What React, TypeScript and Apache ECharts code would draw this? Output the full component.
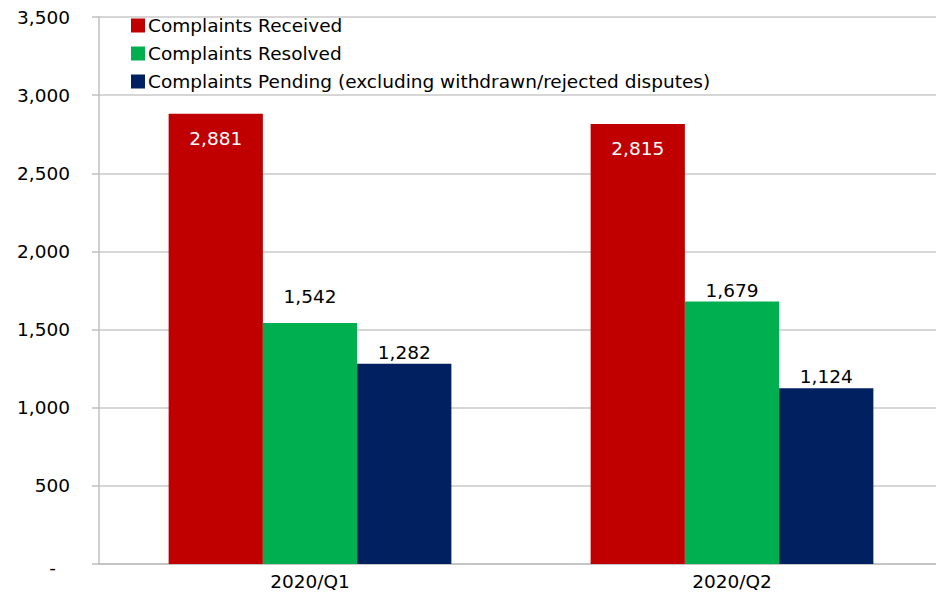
import React, { useEffect, useRef } from "react";
import * as echarts from "echarts";

const categories = ["2020/Q1", "2020/Q2"];
const seriesNames = [
  "Complaints Received",
  "Complaints Resolved",
  "Complaints Pending (excluding withdrawn/rejected disputes)",
];
const received = [2881, 2815];
const resolved = [1542, 1679];
const pending = [1282, 1124];
const colors = ["#C00000", "#00B050", "#002060"];

const FONT = "'DejaVu Sans', sans-serif";
const FS = 18.5;
const fmt = (v: number) => v.toLocaleString("en-US");

export default function App() {
  const ref = useRef<HTMLDivElement>(null);
  useEffect(() => {
    if (!ref.current) return;
    const chart = echarts.init(ref.current, null, { renderer: "svg" });
    const labelBase = {
      show: true,
      fontFamily: FONT,
      fontSize: FS,
      color: "#000",
      formatter: (p: any) => fmt(p.value),
    };
    chart.setOption({
      animation: false,
      textStyle: { fontFamily: FONT },
      grid: {
        left: 99,
        top: 17,
        width: 844,
        bottom: 35,
        containLabel: false,
        outerBoundsMode: "none",
      },
      legend: {
        orient: "vertical",
        left: 126,
        top: 11,
        itemWidth: 14,
        itemHeight: 14,
        itemGap: 9,
        icon: "rect",
        textStyle: { fontFamily: FONT, fontSize: FS, color: "#000", padding: [0, 0, 0, -2] },
        data: seriesNames,
      },
      xAxis: {
        type: "category",
        data: categories,
        axisLine: { show: true, lineStyle: { color: "#BFBFBF", width: 1.5 } },
        axisTick: { show: false },
        axisLabel: { fontFamily: FONT, fontSize: FS, color: "#000", margin: 8 },
      },
      yAxis: {
        type: "value",
        min: 0,
        max: 3500,
        interval: 500,
        axisLine: { show: true, lineStyle: { color: "#BFBFBF", width: 1.5 } },
        axisTick: { show: true, length: 7, lineStyle: { color: "#BFBFBF", width: 1.5 } },
        splitLine: { show: true, lineStyle: { color: "#C8C8C8", width: 1.5 } },
        axisLabel: {
          fontFamily: FONT,
          fontSize: FS,
          color: "#000",
          margin: 29,
          formatter: (v: number) => (v === 0 ? "{d|-}" : fmt(v)),
          rich: { d: { fontFamily: FONT, fontSize: FS, color: "#000", padding: [6, 14, 0, 0] } },
        },
      },
      series: [
        {
          name: seriesNames[0],
          type: "bar",
          data: received,
          itemStyle: { color: colors[0] },
          barGap: "0%",
          barCategoryGap: "33%",
          label: { ...labelBase, position: "insideTop", distance: 15, color: "#fff" },
        },
        {
          name: seriesNames[1],
          type: "bar",
          data: [
            { value: resolved[0], label: { offset: [0, -15] } },
            resolved[1],
          ],
          itemStyle: { color: colors[1] },
          barGap: "0%",
          barCategoryGap: "33%",
          label: { ...labelBase, position: "top", distance: 2 },
        },
        {
          name: seriesNames[2],
          type: "bar",
          data: pending,
          itemStyle: { color: colors[2] },
          barGap: "0%",
          barCategoryGap: "33%",
          label: { ...labelBase, position: "top", distance: 2 },
        },
      ],
    });
    return () => chart.dispose();
  }, []);
  return (
    <div
      ref={ref}
      style={{ position: "fixed", left: 0, top: 0, width: 936, height: 599, background: "#fff" }}
    />
  );
}
